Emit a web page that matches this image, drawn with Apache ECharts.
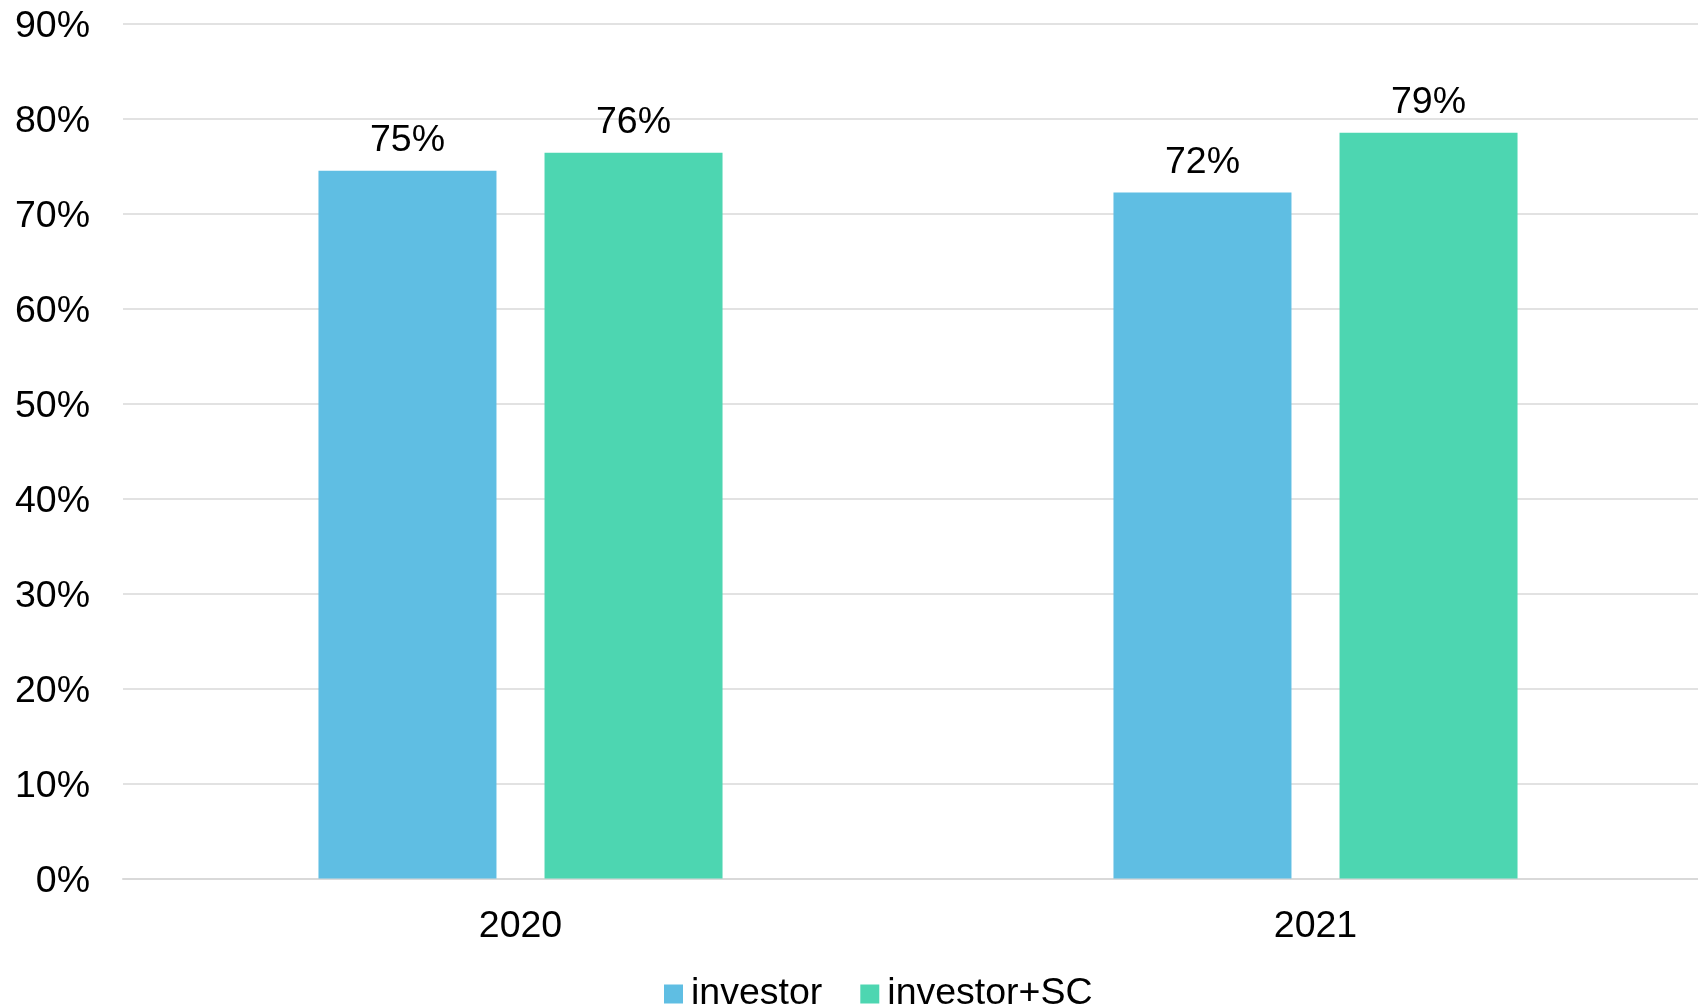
<!DOCTYPE html>
<html>
<head>
<meta charset="utf-8">
<script src="https://cdn.jsdelivr.net/npm/echarts@6/dist/echarts.min.js"></script>
<style>
html,body{margin:0;padding:0;background:#fff;overflow:hidden;}
#chart{width:1713px;height:1007px;}
</style>
</head>
<body>
<div id="chart"></div>
<script>
const categories = ['2020', '2021'];
const seriesNames = ['investor', 'investor+SC'];
const investor = [74.5, 72.2];
const investorSC = [76.4, 78.5];
const colors = ['#5FBEE3', '#4DD6B1'];

const chart = echarts.init(document.getElementById('chart'));
const font = 'Liberation Sans, Arial, sans-serif';
const FS = 37.5;
const labelCfg = {
  show: true,
  position: 'top',
  distance: 11,
  color: '#000',
  fontSize: FS,
  fontFamily: font,
  formatter: p => Math.round(p.value) + '%'
};
chart.setOption({
  animation: false,
  backgroundColor: '#fff',
  textStyle: { fontFamily: font },
  legend: {
    data: seriesNames,
    left: 659,
    top: 970,
    itemWidth: 19,
    itemHeight: 19,
    itemGap: 38,
    icon: 'rect',
    textStyle: { fontSize: FS, color: '#000', fontFamily: font, padding: [0, 0, 0, 3] }
  },
  grid: { left: 123, top: 23.5, bottom: 128.5, right: 0, containLabel: false },
  xAxis: {
    type: 'category',
    data: categories,
    axisLine: { lineStyle: { color: '#d9d9d9', width: 2 } },
    axisTick: { show: false },
    axisLabel: { color: '#000', fontSize: FS, fontFamily: font, margin: 29 }
  },
  yAxis: {
    type: 'value',
    min: 0,
    max: 90,
    interval: 10,
    axisLine: { show: false },
    axisTick: { show: false },
    splitLine: { lineStyle: { color: '#d9d9d9', width: 1.5 } },
    axisLabel: {
      color: '#000', fontSize: FS, fontFamily: font, margin: 33,
      formatter: v => '{v|' + v + '%}',
      rich: { v: { color: '#000', fontSize: FS, fontFamily: font, padding: [7, 0, 0, 0] } }
    }
  },
  series: [
    { name: seriesNames[0], type: 'bar', data: investor, barWidth: 178, barGap: '27%', itemStyle: { color: colors[0] }, label: labelCfg },
    { name: seriesNames[1], type: 'bar', data: investorSC, barWidth: 178, barGap: '27%', itemStyle: { color: colors[1] }, label: labelCfg }
  ]
});
</script>
</body>
</html>
